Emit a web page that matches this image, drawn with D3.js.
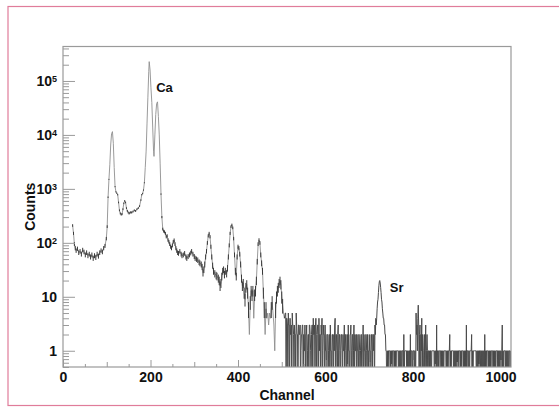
<!DOCTYPE html>
<html>
<head>
<meta charset="utf-8">
<script src="https://cdn.jsdelivr.net/npm/d3@7"></script>
<style>
  body { margin: 0; background: #fff; }
  svg { display: block; }
  text { font-family: "Liberation Sans", Arial, sans-serif; font-weight: bold; fill: #111; }
</style>
</head>
<body>
<div id="chart"></div>
<script>
// spectrum, channels 22..506 (channel, counts)
const peakChannels = [22, 24, 26, 28, 30, 33, 36, 39, 42, 45, 48, 51, 54, 57, 60, 63, 66, 69, 72, 75,
  78, 81, 84, 87, 90, 93, 96, 99, 101, 103, 105, 107, 109, 111, 113, 115, 117, 119, 121, 123,
  125, 127, 129, 131, 133, 135, 137, 139, 141, 143, 145, 147, 149, 151, 153, 155, 157, 160, 163, 166,
  169, 172, 175, 178, 180, 182, 184, 186, 188, 190, 192, 194, 196, 197, 199, 201, 203, 205, 207, 208,
  210, 212, 214, 216, 218, 220, 222, 224, 226, 228, 230, 232, 234, 236, 238, 240, 242, 244, 246, 248,
  250, 252, 254, 256, 258, 260, 262, 264, 267, 270, 272, 275, 278, 281, 283, 286, 289, 292, 294, 297,
  300, 302, 305, 308, 311, 313, 316, 318, 320, 322, 324, 326, 328, 330, 332, 334, 336, 338, 340, 342,
  344, 347, 350, 352, 355, 357, 359, 361, 363, 365, 367, 369, 371, 374, 376, 378, 380, 382, 384, 386,
  388, 390, 392, 394, 396, 398, 400, 402, 404, 406, 408, 410, 412, 414, 416, 418, 420, 422, 424, 426,
  428, 430, 432, 434, 436, 438, 440, 442, 444, 446, 448, 450, 452, 454, 456, 458, 460, 462, 464, 466,
  468, 470, 472, 474, 476, 478, 480, 482, 484, 486, 488, 490, 492, 494, 496, 498, 500, 502, 504, 506];
const peakCounts = [210, 150, 95, 80, 72, 78, 66, 70, 62, 74, 68, 60, 66, 58, 62, 55, 60, 52, 58, 54,
  62, 57, 66, 72, 68, 80, 88, 120, 200, 700, 1500, 2800, 6500, 10500, 11500, 7000, 2500, 1100, 880, 830,
  780, 560, 400, 350, 335, 340, 420, 540, 600, 560, 440, 390, 365, 350, 360, 370, 365, 380, 400, 390,
  420, 440, 480, 620, 780, 820, 950, 1300, 2500, 5000, 16000, 50000, 150000, 228000, 160000, 75000, 40000, 14000, 5000, 4000,
  10000, 24000, 38000, 41000, 22000, 10000, 3000, 800, 300, 180, 165, 160, 150, 130, 135, 113, 105, 95, 85, 80,
  90, 105, 112, 95, 80, 72, 66, 64, 70, 62, 58, 60, 64, 55, 52, 56, 60, 65, 70, 62,
  56, 52, 50, 48, 44, 42, 40, 36, 28, 32, 40, 55, 70, 100, 135, 150, 130, 85, 55, 38,
  30, 27, 25, 24, 22, 20, 16, 18, 24, 30, 32, 26, 30, 27, 34, 55, 90, 150, 200, 215,
  190, 120, 60, 30, 24, 55, 85, 80, 62, 40, 22, 16, 18, 12, 9, 15, 17, 12, 6, 2,
  8, 13, 11, 13, 4, 11, 13, 20, 45, 95, 113, 100, 60, 42, 30, 12, 6, 2, 6, 4,
  5, 3, 5, 4, 6, 8, 5, 3, 1, 6, 10, 13, 15, 18, 20, 17, 10, 7, 5, 4];

// low-count region, one value per channel from 508
const noiseStart = 508;
const noiseCounts = [5, 5, 0, 4, 4, 3, 0, 5, 3, 3, 0, 4, 2, 2, 3, 0, 5, 3, 3, 2, 0, 3, 2, 2, 0, 5, 3, 2, 2, 0, 3, 3,
  2, 2, 3, 0, 1, 2, 2, 3, 3, 0, 2, 1, 1, 3, 0, 2, 2, 3, 0, 1, 2, 2, 0, 3, 3, 2, 1, 0, 2, 3, 3, 0,
  4, 2, 2, 3, 0, 3, 4, 2, 0, 2, 3, 3, 0, 4, 1, 2, 2, 0, 3, 2, 4, 0, 1, 3, 2, 2, 0, 3, 1, 1, 0, 2,
  2, 2, 0, 1, 2, 2, 0, 3, 1, 1, 0, 2, 2, 1, 0, 2, 1, 3, 4, 0, 2, 2, 1, 0, 2, 3, 0, 1, 2, 2, 0, 1,
  2, 2, 1, 0, 2, 1, 1, 3, 0, 1, 2, 2, 0, 1, 2, 0, 3, 1, 1, 0, 2, 2, 3, 0, 1, 2, 2, 0, 1, 3, 0, 2,
  1, 1, 2, 0, 2, 1, 1, 0, 2, 2, 1, 0, 1, 2, 2, 0, 1, 1, 3, 0, 2, 1, 1, 0, 2, 2, 1, 0, 2, 1, 1, 0,
  2, 1, 1, 0, 2, 2, 1, 0, 2, 2, 1, 2, 0, 3, 2, 4];
// Sr line, channels 716..740
const srStart = 716;
const srCounts = [3, 4, 6, 8, 9, 12, 16, 19, 20, 18, 15, 12, 9, 8, 6, 5, 4, 4, 3, 3, 2, 2, 1, 1, 0];
// tail, channels 741..1023
const tailStart = 741;
const tailCounts = [0, 1, 0, 1, 1, 1, 1, 0, 1, 0, 1, 0, 1, 1, 1, 1, 0, 1, 0, 1, 0, 1, 1, 1, 1, 1, 0, 1, 0, 1, 0, 1,
  1, 0, 1, 1, 1, 0, 2, 0, 1, 1, 1, 1, 1, 0, 1, 0, 1, 0, 1, 1, 0, 2, 0, 1, 1, 1, 0, 1, 1, 1, 0, 1,
  1, 0, 5, 2, 3, 1, 4, 7, 3, 0, 2, 3, 0, 2, 1, 4, 0, 2, 1, 0, 1, 2, 0, 1, 3, 0, 1, 2, 1, 0, 1, 1,
  0, 1, 0, 1, 1, 0, 1, 1, 1, 1, 1, 1, 0, 1, 0, 1, 0, 3, 0, 1, 1, 1, 0, 1, 1, 1, 1, 0, 1, 0, 1, 0,
  1, 0, 1, 1, 1, 1, 1, 0, 1, 0, 1, 0, 1, 1, 1, 2, 0, 1, 0, 1, 1, 1, 1, 1, 0, 1, 0, 1, 0, 1, 0, 1,
  0, 1, 0, 1, 1, 1, 1, 0, 1, 0, 1, 1, 1, 1, 0, 1, 0, 1, 0, 1, 0, 3, 0, 1, 1, 1, 0, 1, 0, 1, 1, 1,
  1, 2, 0, 1, 0, 1, 1, 1, 1, 1, 1, 1, 0, 1, 0, 1, 0, 1, 0, 1, 1, 1, 0, 1, 0, 1, 0, 1, 0, 1, 0, 2,
  0, 1, 0, 1, 1, 1, 1, 0, 1, 0, 1, 0, 1, 0, 1, 1, 1, 1, 0, 1, 0, 1, 0, 1, 0, 1, 1, 1, 1, 0, 1, 0,
  1, 0, 1, 0, 1, 0, 1, 3, 0, 1, 0, 1, 1, 1, 1, 0, 1, 0, 1, 0, 1, 0, 1, 1, 1, 0, 1];

const xTicks = [0, 200, 400, 600, 800, 1000];
const yDecades = [1, 10, 100, 1000, 10000, 100000];
const peakNames = ["Ca", "Sr"];
const peakNameChannels = [213, 747];
const peakNameCounts = [62000, 12.5];

const width = 559, height = 407;
const margin = { top: 46.5, right: 48, bottom: 40, left: 63 };

const svg = d3.select("#chart").append("svg")
  .attr("width", width)
  .attr("height", height);

// pink picture border
svg.append("rect")
  .attr("x", 8).attr("y", 6.5)
  .attr("width", 570).attr("height", 399)
  .attr("fill", "#fff")
  .attr("stroke", "#e07c9a")
  .attr("stroke-width", 1.2);

const x = d3.scaleLinear().domain([0, 1024]).range([margin.left, width - margin.right]);
const y = d3.scaleLog().domain([0.5, 4.35e5]).range([height - margin.bottom, margin.top]);

// smooth part and low-count part as separate point lists
const smooth = peakChannels.map((c, i) => ({ ch: c, v: peakCounts[i] }));
let lowCount = [smooth[smooth.length - 1]];
noiseCounts.forEach((v, i) => lowCount.push({ ch: noiseStart + i, v: v }));
srCounts.forEach((v, i) => lowCount.push({ ch: srStart + i, v: v }));
tailCounts.forEach((v, i) => lowCount.push({ ch: tailStart + i, v: v }));

svg.append("clipPath").attr("id", "frame")
  .append("rect")
  .attr("x", x(0)).attr("y", y.range()[1])
  .attr("width", x(1024) - x(0)).attr("height", y.range()[0] - y.range()[1]);

const plot = svg.append("g").attr("clip-path", "url(#frame)");

const line = d3.line()
  .x(d => x(d.ch))
  .y(d => d.v > 0 ? y(d.v) : y.range()[0] + 30);

plot.append("path")
  .datum(smooth)
  .attr("d", line)
  .attr("fill", "none")
  .attr("stroke", "#8e8e8e")
  .attr("stroke-width", 0.9);

plot.append("path")
  .datum(lowCount)
  .attr("d", line)
  .attr("fill", "none")
  .attr("stroke", "#4a4a4a")
  .attr("stroke-width", 1);

// error bars on the lower part of the spectrum
plot.selectAll(".err")
  .data(smooth.filter(d => d.v >= 6 && d.v <= 2000))
  .enter()
  .append("line")
  .attr("x1", d => x(d.ch)).attr("x2", d => x(d.ch))
  .attr("y1", d => y(Math.max(d.v - 0.8 * Math.sqrt(d.v), 0.5)))
  .attr("y2", d => y(d.v + 0.8 * Math.sqrt(d.v)))
  .attr("stroke", "#3a3a3a")
  .attr("stroke-width", 1);

// x axis, ticks inward
const xMinor = d3.range(0, 1025, 50).filter(c => c % 100 !== 0);
const xMid = d3.range(100, 1025, 200);
const bottom = height - margin.bottom;

const xAxisG = svg.append("g").attr("transform", `translate(0,${bottom})`);
xAxisG.append("g").call(d3.axisBottom(x).tickValues(xMinor).tickSize(-3).tickFormat(""));
xAxisG.append("g").call(d3.axisBottom(x).tickValues(xMid).tickSize(-5).tickFormat(""));
xAxisG.append("g").call(d3.axisBottom(x).tickValues(xTicks).tickSize(-7).tickPadding(5).tickFormat(d3.format("d")));

// y axis
let yMinor = [];
[0.1, 1, 10, 100, 1000, 10000, 100000].forEach(function (p) {
  for (let k = 2; k <= 9; k++) {
    const v = k * p;
    if (v >= 0.5 && v <= 4.35e5) yMinor.push(v);
  }
});

const yAxisG = svg.append("g").attr("transform", `translate(${margin.left},0)`);
yAxisG.append("g").call(d3.axisLeft(y).tickValues(yMinor).tickSize(-6).tickFormat(""));
const yMajorG = yAxisG.append("g")
  .call(d3.axisLeft(y).tickValues(yDecades).tickSize(-12).tickPadding(6).tickFormat(""));

svg.selectAll(".domain").remove();
svg.selectAll(".tick line").attr("stroke", "#9a9a9a");
svg.selectAll(".tick text").style("font-size", "14px").attr("fill", "#111");

// decade labels with superscripts
yMajorG.selectAll(".tick text").each(function (d) {
  const t = d3.select(this);
  const e = Math.round(Math.log10(d));
  if (e <= 1) {
    t.text(e === 0 ? "1" : "10");
  } else {
    t.append("tspan").text("10");
    t.append("tspan").text(e).attr("dy", "-0.45em").style("font-size", "9px");
  }
});

// frame
svg.append("rect")
  .attr("x", x(0)).attr("y", y.range()[1])
  .attr("width", x(1024) - x(0)).attr("height", y.range()[0] - y.range()[1])
  .attr("fill", "none")
  .attr("stroke", "#9a9a9a")
  .attr("stroke-width", 1.2);

// axis titles
svg.append("text")
  .attr("x", (x(0) + x(1024)) / 2).attr("y", 400)
  .attr("text-anchor", "middle")
  .style("font-size", "14px")
  .text("Channel");

svg.append("text")
  .attr("transform", `translate(35,${(y.range()[0] + y.range()[1]) / 2}) rotate(-90)`)
  .attr("text-anchor", "middle")
  .style("font-size", "14px")
  .text("Counts");

// element labels
peakNames.forEach(function (name, i) {
  svg.append("text")
    .attr("x", x(peakNameChannels[i]))
    .attr("y", y(peakNameCounts[i]))
    .style("font-size", "13px")
    .text(name);
});
</script>
</body>
</html>
